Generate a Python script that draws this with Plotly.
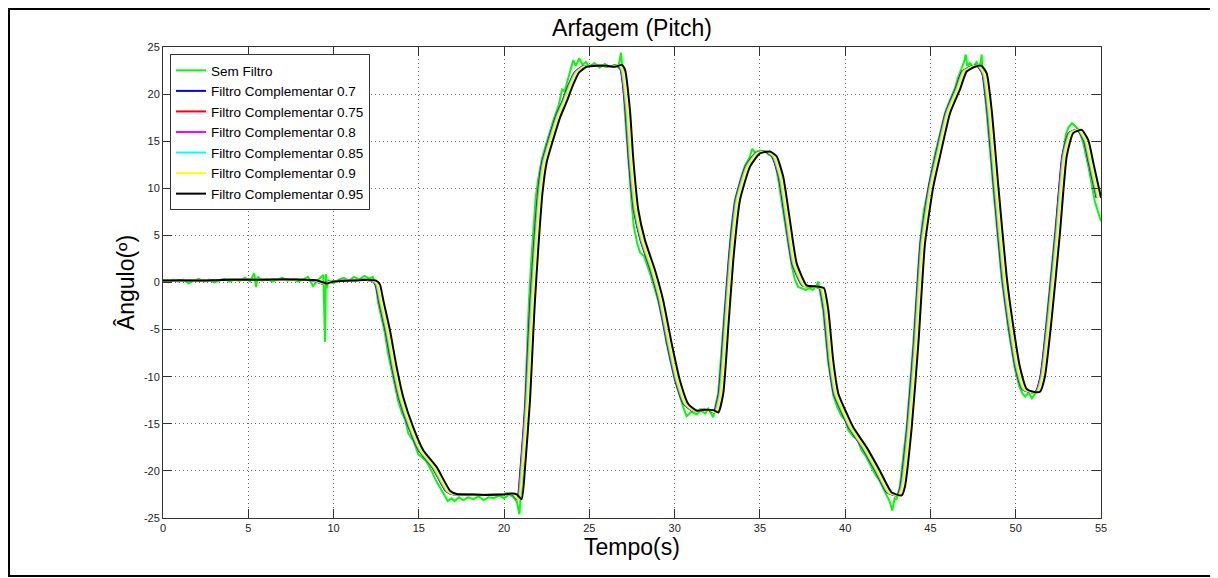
import plotly.graph_objects as go

# ---------------- data ----------------
# Raw signal "Sem Filtro"
t_raw = [
    0, 0.3, 0.6, 0.9, 1.2, 1.5, 1.8, 2.1, 2.4, 2.7,
    3.0, 3.3, 3.6, 3.9, 4.2, 4.5, 4.8, 5.1, 5.35, 5.45,
    5.55, 5.8, 6.1, 6.4, 6.7, 7.0, 7.3, 7.6, 7.9, 8.2,
    8.5, 8.8, 9.1, 9.4, 9.5, 9.55, 9.6, 9.7, 10.0, 10.3,
    10.6, 10.9, 11.2, 11.5, 11.8, 12.1, 12.3, 12.4, 12.5, 12.62,
    12.8, 13.01, 13.2, 13.4, 13.6, 13.79, 14.0, 14.2, 14.38, 14.5,
    14.7, 14.96, 15.2, 15.45, 15.75, 16.0, 16.25, 16.53, 16.7, 16.92,
    17.1, 17.35, 17.6, 17.9, 18.2, 18.5, 18.8, 19.1, 19.4, 19.7,
    20.0, 20.3, 20.55, 20.75, 20.9, 20.98, 21.1, 21.22, 21.35, 21.45,
    21.58, 21.7, 21.85, 22.0, 22.2, 22.4, 22.6, 22.9, 23.2, 23.4,
    23.55, 23.75, 23.9, 24.05, 24.2, 24.4, 24.6, 24.8, 25.0, 25.3,
    25.6, 25.9, 26.2, 26.5, 26.7, 26.85, 26.95, 27.08, 27.28, 27.45,
    27.6, 27.8, 27.97, 28.2, 28.55, 29.03, 29.3, 29.53, 30.01, 30.3,
    30.5, 30.7, 30.99, 31.3, 31.5, 31.8, 31.97, 32.1, 32.26, 32.4,
    32.55, 32.85, 33.14, 33.3, 33.53, 33.7, 33.9, 34.12, 34.4, 34.55,
    34.7, 35.0, 35.29, 35.5, 35.68, 35.9, 36.07, 36.25, 36.46, 36.65,
    36.86, 37.05, 37.25, 37.44, 37.7, 37.9, 38.1, 38.3, 38.42, 38.5,
    38.71, 39.0, 39.3, 39.55, 39.79, 40.0, 40.18, 40.5, 40.7, 40.96,
    41.2, 41.45, 41.74, 42.0, 42.2, 42.43, 42.6, 42.76, 42.9, 43.01,
    43.1, 43.2, 43.4, 43.6, 43.99, 44.2, 44.38, 44.6, 44.87, 45.1,
    45.26, 45.5, 45.85, 46.1, 46.43, 46.6, 46.82, 46.95, 47.07, 47.15,
    47.31, 47.5, 47.7, 47.85, 47.95, 48.0, 48.05, 48.29, 48.68, 49.17,
    49.56, 49.95, 50.2, 50.4, 50.55, 50.75, 50.95, 51.15, 51.35, 51.55,
    51.85, 52.3, 52.5, 52.75, 52.95, 53.1, 53.3, 53.5, 53.7, 53.96,
    54.25, 54.64, 55.0,
]
v_raw = [
    0.2, 0.0, 0.3, 0.1, 0.3, -0.1, 0.2, 0.4, 0.1, 0.3,
    0.0, 0.2, 0.4, 0.1, 0.3, 0.2, 0.5, 0.1, 1.0, -0.5,
    0.6, 0.2, 0.4, 0.1, 0.3, 0.5, 0.2, 0.4, 0.1, 0.3,
    0.6, -0.4, 0.3, 0.8, -6.3, 0.9, -0.6, 0.2, -0.1, 0.3,
    0.5, 0.2, 0.6, 0.3, 0.7, 0.4, 0.6, 0.1, -0.6, -2.2,
    -3.8, -5.4, -7.6, -9.4, -11.0, -12.6, -13.8, -14.6, -16.0, -16.3,
    -16.9, -18.2, -18.6, -19.0, -20.0, -21.0, -21.8, -22.6, -23.2, -22.9,
    -23.2, -22.8, -23.1, -22.8, -23.0, -22.7, -23.1, -22.8, -22.9, -22.6,
    -22.9, -22.5, -22.8, -23.3, -24.6, -22.5, -19.2, -13.0, -6.5, -2.2,
    2.0, 5.5, 9.0, 11.0, 13.0, 14.3, 15.6, 17.3, 18.8, 20.5,
    20.3, 21.8, 22.6, 23.6, 23.0, 23.8, 23.1, 23.4, 22.9, 23.3,
    22.8, 23.2, 22.9, 23.1, 22.8, 24.4, 22.5, 18.0, 12.8, 9.0,
    6.0, 4.2, 3.2, 2.8, 1.0, -1.9, -4.2, -6.5, -10.4, -12.2,
    -13.2, -14.2, -13.7, -14.0, -13.6, -13.9, -13.4, -13.8, -14.3, -13.0,
    -11.8, -4.7, 2.4, 5.5, 8.75, 10.0, 11.2, 12.4, 13.3, 14.2,
    13.8, 14.0, 13.9, 13.6, 13.4, 12.6, 11.0, 8.8, 6.4, 4.0,
    1.8, 0.3, -0.5, -0.6, -0.8, -0.6, -0.8, -0.4, 0.1, -0.8,
    -3.0, -8.5, -12.0, -13.3, -14.2, -14.6, -15.7, -16.4, -16.6, -17.8,
    -18.4, -19.3, -20.3, -21.0, -21.8, -22.6, -23.2, -24.2, -22.9, -23.0,
    -22.4, -21.7, -18.5, -15.4, -6.5, -1.0, 4.15, 7.5, 10.2, 12.2,
    13.6, 15.4, 18.0, 19.2, 20.6, 21.7, 22.6, 23.3, 24.2, 23.0,
    23.3, 22.9, 23.4, 22.9, 23.4, 24.2, 22.4, 18.2, 10.0, 0.4,
    -4.9, -9.2, -11.0, -11.8, -12.1, -11.7, -12.3, -11.8, -11.2, -8.8,
    -3.2, 5.5, 9.5, 13.6, 15.8, 16.5, 16.9, 16.5, 16.2, 14.8,
    12.4, 8.6, 6.5,
]

# Filtered curve shape (shared by the complementary-filter series)
v_filtered = [
    0.2, 0.25, 0.2, 0.25, 0.3, 0.3, 0.3, 0.35, 0.3, 0.25,
    -0.1, 0.1, 0.2, 0.3, 0.2, -0.2, -1.9, -5.1, -9.0, -12.2,
    -15.4, -17.8, -19.6, -22.1, -22.45, -22.5, -22.55, -22.5, -22.4, -22.5,
    -23.0, -19.6, -12.5, -5.4, -1.9, 3.5, 9.5, 12.8, 15.3, 17.6,
    19.2, 21.0, 22.3, 22.9, 23.0, 23.0, 22.9, 23.1, 22.6, 18.3,
    13.0, 7.7, 4.5, 1.3, -1.9, -6.5, -10.4, -12.9, -13.6, -13.5,
    -13.55, -13.8, -11.8, -4.7, 2.4, 8.75, 12.3, 13.7, 13.9, 13.4,
    11.2, 6.6, 2.0, -0.3, -0.4, -0.47, -0.6, -2.9, -8.3, -11.8,
    -13.9, -15.4, -17.5, -20.0, -22.3, -22.6, -21.7, -15.4, -6.5, 4.15,
    10.2, 13.4, 18.0, 20.5, 22.4, 22.9, 23.0, 22.2, 18.3, 10.2,
    0.6, -4.7, -9.0, -11.3, -11.6, -11.6, -10.0, -4.0, 5.2, 13.4,
    15.85, 16.2, 15.1, 12.7, 9.0,
]

# Sample times of each filter output (higher gain -> more lag)
t_f095 = [
    0, 1, 2, 3, 4, 5, 6, 7, 8, 9,
    9.6, 10, 11, 12, 12.5, 12.72, 12.92, 13.31, 13.7, 14.09,
    14.68, 15.26, 16.05, 16.83, 17.22, 18, 19, 20, 20.5, 20.74,
    21.03, 21.23, 21.52, 21.71, 21.81, 22.0, 22.25, 22.5, 22.9, 23.3,
    23.67, 24.05, 24.4, 24.84, 25.5, 26, 26.5, 26.9, 27.09, 27.38,
    27.58, 27.87, 28.26, 28.85, 29.33, 29.83, 30.31, 30.8, 31.29, 31.8,
    32.27, 32.56, 32.85, 33.15, 33.44, 33.83, 34.42, 35.0, 35.59, 35.98,
    36.37, 36.76, 37.16, 37.74, 38.2, 38.52, 38.76, 39.01, 39.3, 39.6,
    40.09, 40.48, 41.26, 42.04, 42.73, 43.31, 43.5, 43.9, 44.29, 44.68,
    45.17, 45.56, 46.15, 46.73, 47.12, 47.61, 48.0, 48.3, 48.59, 48.98,
    49.47, 49.86, 50.25, 50.64, 51.03, 51.42, 51.71, 52.1, 52.59, 52.99,
    53.37, 53.87, 54.26, 54.55, 55.0,
]
t_f090 = [
    -0.15, 0.85, 1.85, 2.85, 3.85, 4.85, 5.85, 6.85, 7.85, 8.85,
    9.45, 9.85, 10.85, 11.85, 12.35, 12.57, 12.77, 13.16, 13.55, 13.94,
    14.53, 15.11, 15.9, 16.68, 17.07, 17.85, 18.85, 19.85, 20.35, 20.59,
    20.88, 21.08, 21.37, 21.56, 21.66, 21.85, 22.1, 22.35, 22.75, 23.15,
    23.52, 23.9, 24.25, 24.69, 25.35, 25.85, 26.35, 26.75, 26.94, 27.23,
    27.43, 27.72, 28.11, 28.7, 29.18, 29.68, 30.16, 30.65, 31.14, 31.65,
    32.12, 32.41, 32.7, 33.0, 33.29, 33.68, 34.27, 34.85, 35.44, 35.83,
    36.22, 36.61, 37.01, 37.59, 38.05, 38.37, 38.61, 38.86, 39.15, 39.45,
    39.94, 40.33, 41.11, 41.89, 42.58, 43.16, 43.35, 43.75, 44.14, 44.53,
    45.02, 45.41, 46.0, 46.58, 46.97, 47.46, 47.85, 48.15, 48.44, 48.83,
    49.32, 49.71, 50.1, 50.49, 50.88, 51.27, 51.56, 51.95, 52.44, 52.84,
    53.22, 53.72, 54.11, 54.4, 54.85,
]
t_f085 = [
    -0.2, 0.8, 1.8, 2.8, 3.8, 4.8, 5.8, 6.8, 7.8, 8.8,
    9.4, 9.8, 10.8, 11.8, 12.3, 12.52, 12.72, 13.11, 13.5, 13.89,
    14.48, 15.06, 15.85, 16.63, 17.02, 17.8, 18.8, 19.8, 20.3, 20.54,
    20.83, 21.03, 21.32, 21.51, 21.61, 21.8, 22.05, 22.3, 22.7, 23.1,
    23.47, 23.85, 24.2, 24.64, 25.3, 25.8, 26.3, 26.7, 26.89, 27.18,
    27.38, 27.67, 28.06, 28.65, 29.13, 29.63, 30.11, 30.6, 31.09, 31.6,
    32.07, 32.36, 32.65, 32.95, 33.24, 33.63, 34.22, 34.8, 35.39, 35.78,
    36.17, 36.56, 36.96, 37.54, 38.0, 38.32, 38.56, 38.81, 39.1, 39.4,
    39.89, 40.28, 41.06, 41.84, 42.53, 43.11, 43.3, 43.7, 44.09, 44.48,
    44.97, 45.36, 45.95, 46.53, 46.92, 47.41, 47.8, 48.1, 48.39, 48.78,
    49.27, 49.66, 50.05, 50.44, 50.83, 51.22, 51.51, 51.9, 52.39, 52.79,
    53.17, 53.67, 54.06, 54.35, 54.8,
]
t_f080 = [
    -0.22, 0.78, 1.78, 2.78, 3.78, 4.78, 5.78, 6.78, 7.78, 8.78,
    9.38, 9.78, 10.78, 11.78, 12.28, 12.5, 12.7, 13.09, 13.48, 13.87,
    14.46, 15.04, 15.83, 16.61, 17.0, 17.78, 18.78, 19.78, 20.28, 20.52,
    20.81, 21.01, 21.3, 21.49, 21.59, 21.78, 22.03, 22.28, 22.68, 23.08,
    23.45, 23.83, 24.18, 24.62, 25.28, 25.78, 26.28, 26.68, 26.87, 27.16,
    27.36, 27.65, 28.04, 28.63, 29.11, 29.61, 30.09, 30.58, 31.07, 31.58,
    32.05, 32.34, 32.63, 32.93, 33.22, 33.61, 34.2, 34.78, 35.37, 35.76,
    36.15, 36.54, 36.94, 37.52, 37.98, 38.3, 38.54, 38.79, 39.08, 39.38,
    39.87, 40.26, 41.04, 41.82, 42.51, 43.09, 43.28, 43.68, 44.07, 44.46,
    44.95, 45.34, 45.93, 46.51, 46.9, 47.39, 47.78, 48.08, 48.37, 48.76,
    49.25, 49.64, 50.03, 50.42, 50.81, 51.2, 51.49, 51.88, 52.37, 52.77,
    53.15, 53.65, 54.04, 54.33, 54.78,
]
t_f075 = [
    -0.24, 0.76, 1.76, 2.76, 3.76, 4.76, 5.76, 6.76, 7.76, 8.76,
    9.36, 9.76, 10.76, 11.76, 12.26, 12.48, 12.68, 13.07, 13.46, 13.85,
    14.44, 15.02, 15.81, 16.59, 16.98, 17.76, 18.76, 19.76, 20.26, 20.5,
    20.79, 20.99, 21.28, 21.47, 21.57, 21.76, 22.01, 22.26, 22.66, 23.06,
    23.43, 23.81, 24.16, 24.6, 25.26, 25.76, 26.26, 26.66, 26.85, 27.14,
    27.34, 27.63, 28.02, 28.61, 29.09, 29.59, 30.07, 30.56, 31.05, 31.56,
    32.03, 32.32, 32.61, 32.91, 33.2, 33.59, 34.18, 34.76, 35.35, 35.74,
    36.13, 36.52, 36.92, 37.5, 37.96, 38.28, 38.52, 38.77, 39.06, 39.36,
    39.85, 40.24, 41.02, 41.8, 42.49, 43.07, 43.26, 43.66, 44.05, 44.44,
    44.93, 45.32, 45.91, 46.49, 46.88, 47.37, 47.76, 48.06, 48.35, 48.74,
    49.23, 49.62, 50.01, 50.4, 50.79, 51.18, 51.47, 51.86, 52.35, 52.75,
    53.13, 53.63, 54.02, 54.31, 54.76,
]
t_f070 = [
    -0.26, 0.74, 1.74, 2.74, 3.74, 4.74, 5.74, 6.74, 7.74, 8.74,
    9.34, 9.74, 10.74, 11.74, 12.24, 12.46, 12.66, 13.05, 13.44, 13.83,
    14.42, 15.0, 15.79, 16.57, 16.96, 17.74, 18.74, 19.74, 20.24, 20.48,
    20.77, 20.97, 21.26, 21.45, 21.55, 21.74, 21.99, 22.24, 22.64, 23.04,
    23.41, 23.79, 24.14, 24.58, 25.24, 25.74, 26.24, 26.64, 26.83, 27.12,
    27.32, 27.61, 28.0, 28.59, 29.07, 29.57, 30.05, 30.54, 31.03, 31.54,
    32.01, 32.3, 32.59, 32.89, 33.18, 33.57, 34.16, 34.74, 35.33, 35.72,
    36.11, 36.5, 36.9, 37.48, 37.94, 38.26, 38.5, 38.75, 39.04, 39.34,
    39.83, 40.22, 41.0, 41.78, 42.47, 43.05, 43.24, 43.64, 44.03, 44.42,
    44.91, 45.3, 45.89, 46.47, 46.86, 47.35, 47.74, 48.04, 48.33, 48.72,
    49.21, 49.6, 49.99, 50.38, 50.77, 51.16, 51.45, 51.84, 52.33, 52.73,
    53.11, 53.61, 54.0, 54.29, 54.74,
]

series_names = [
    "Sem Filtro",
    "Filtro Complementar 0.7",
    "Filtro Complementar 0.75",
    "Filtro Complementar 0.8",
    "Filtro Complementar 0.85",
    "Filtro Complementar 0.9",
    "Filtro Complementar 0.95",
]
series_colors = ["#00ff00", "#0000ff", "#ff0000", "#ff00ff", "#00ffff", "#ffff00", "#000000"]

x_tick_vals = [0, 5, 10, 15, 20, 25, 30, 35, 40, 45, 50, 55]
x_tick_text = ["0", "5", "10", "15", "20", "25", "30", "35", "40", "45", "50", "55"]
y_tick_vals = [-25, -20, -15, -10, -5, 0, 5, 10, 15, 20, 25]
y_tick_text = ["-25", "-20", "-15", "-10", "-5", "0", "5", "10", "15", "20", "25"]

# ---------------- figure ----------------
series_x = [t_raw, t_f070, t_f075, t_f080, t_f085, t_f090, t_f095]
series_y = [v_raw, v_filtered, v_filtered, v_filtered, v_filtered, v_filtered, v_filtered]

fig = go.Figure()
for i, (name, color, xs, ys) in enumerate(zip(series_names, series_colors, series_x, series_y)):
    line = dict(color=color, width=2)
    if i > 0:
        line.update(shape="spline", smoothing=0.5)
    fig.add_trace(go.Scatter(x=xs, y=ys, mode="lines", name=name, line=line))

FONT = "Liberation Sans, Arial, Helvetica, sans-serif"
axis_common = dict(
    ticks="inside", ticklen=9, tickwidth=1, tickcolor="#333333",
    showline=True, linecolor="#333333", linewidth=1, mirror="ticks",
    showgrid=True, gridcolor="#666666", gridwidth=1, griddash="1px,3px",
    zeroline=False, tickfont=dict(family=FONT, size=11, color="#222222"),
)

# page body has an 8px margin: plot area lands at x 163..1101, y 47..518 on screen
L, T, PW, PH = 155, 39, 938, 471
W, H = 1218, 578

fig.update_layout(
    width=W, height=H,
    margin=dict(l=L, r=W - L - PW, t=T, b=H - T - PH),
    paper_bgcolor="white", plot_bgcolor="white",
    font=dict(family=FONT, color="black"),
    title=dict(text="Arfagem (Pitch)", x=0.5, xref="paper", xanchor="center",
               y=1 - 20 / H, yanchor="middle",
               font=dict(family=FONT, size=23, color="black")),
    xaxis=dict(range=[0, 55], tickvals=x_tick_vals, ticktext=x_tick_text,
               title=dict(text="Tempo(s)", font=dict(family=FONT, size=23, color="black"),
                          standoff=4),
               **axis_common),
    yaxis=dict(range=[-25, 25], tickvals=y_tick_vals, ticktext=y_tick_text,
               title=dict(text="Ângulo(º)", font=dict(family=FONT, size=23, color="black"),
                          standoff=2),
               **axis_common),
    legend=dict(x=7 / PW, y=0.985, xanchor="left", yanchor="top",
                bgcolor="white", bordercolor="#333333", borderwidth=1,
                font=dict(family=FONT, size=13.5, color="black"),
                tracegroupgap=0, itemwidth=30),
    showlegend=True,
)

# outer figure border (as in the exported MATLAB figure)
fig.add_shape(type="rect", xref="paper", yref="paper",
              x0=(1 - L) / PW, x1=(1208 - L) / PW,
              y0=(T + PH - 568) / PH, y1=(T + PH - 1) / PH,
              line=dict(color="black", width=2), fillcolor="rgba(0,0,0,0)",
              layer="above")

fig.write_html("out.html")
